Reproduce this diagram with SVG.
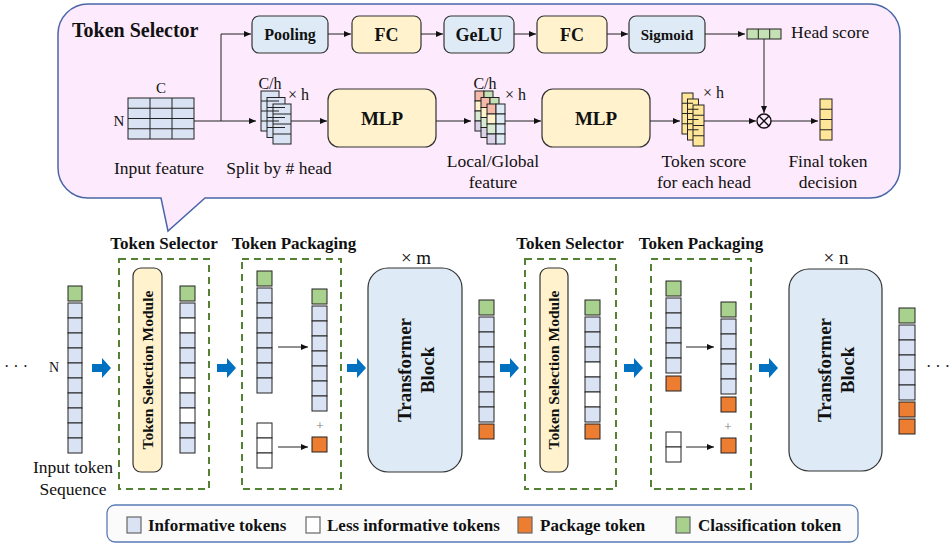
<svg xmlns="http://www.w3.org/2000/svg" width="951" height="544" viewBox="0 0 951 544">
<style>
text{font-family:"Liberation Serif","Times New Roman",serif;fill:#111}
.t{font-size:17.5px}
.bl{font-weight:bold}
.c{text-anchor:middle}
.box{stroke:#333;stroke-width:1.2}
.fb{fill:#deebf7}
.fy{fill:#fff2cc}
.leg{stroke:#666;stroke-width:1.2}
.cell{stroke:#222;stroke-width:1}
.b{fill:#dae3f3}
.w{fill:#fff}
.g{fill:#a9d18e}
.o{fill:#ed7d31}
.s{fill:#ffe699}
.hs{fill:#c5e0b4}
.ln{stroke:#222;stroke-width:1;fill:none}
.dash{fill:none;stroke:#548235;stroke-width:2;stroke-dasharray:7 5}
</style>
<defs>
<marker id="ah" markerWidth="8" markerHeight="8" refX="7" refY="4" orient="auto" markerUnits="userSpaceOnUse"><path d="M0,1 L7,4 L0,7 z" fill="#111"/></marker>
<polygon id="barrow" points="0,-4 10,-4 10,-10 19,0 10,10 10,4 0,4" fill="#0070c0"/>
</defs>

<!-- Token Selector bubble -->
<g id="bubble">
<path d="M88,4 H870 A30,30 0 0 1 900,34 V168 A30,30 0 0 1 870,198 H205 L168,231 L161,198 H88 A30,30 0 0 1 58,168 V34 A30,30 0 0 1 88,4 Z" fill="#fdebfd" stroke="#4a66a8" stroke-width="1.5"/>
<text x="72" y="37" class="bl" font-size="20">Token Selector</text>
</g>

<g id="input-feature">
<rect x="128" y="98" width="66" height="41" class="cell b"/>
<path d="M150,98V139M172,98V139M128,108.25H194M128,118.5H194M128,128.75H194" class="ln"/>
<text x="161" y="93" font-size="15" class="c">C</text>
<text x="119" y="126" font-size="15" class="c">N</text>
<text x="159" y="174" class="t c">Input feature</text>
</g>

<g id="split-head">
<g class="cell b">
<rect x="261" y="91" width="18" height="40"/><rect x="267" y="97.5" width="18" height="40"/><rect x="273" y="104" width="18" height="40"/>
</g>
<path d="M261,101H279M261,111H279M261,121H279M267,107.5H285M267,117.5H285M267,127.5H285M273,114H291M273,124H291M273,134H291" class="ln"/>
<text x="270" y="89" font-size="16" class="c">C/h</text>
<text x="288" y="100" font-size="16">× h</text>
<text x="279" y="174" class="t c">Split by # head</text>
</g>

<g id="pooling"><rect x="252" y="16" width="76" height="37" rx="7" class="box fb"/><text x="290" y="40" font-size="16" class="bl c">Pooling</text></g>
<g id="fc1"><rect x="352" y="16" width="69" height="37" rx="7" class="box fy"/><text x="386.5" y="41" font-size="18" class="bl c">FC</text></g>
<g id="gelu"><rect x="444" y="16" width="70" height="37" rx="7" class="box fb"/><text x="479" y="41" font-size="18" class="bl c">GeLU</text></g>
<g id="fc2"><rect x="537" y="16" width="70" height="37" rx="7" class="box fy"/><text x="572" y="41" font-size="18" class="bl c">FC</text></g>
<g id="sigmoid"><rect x="629" y="16" width="76" height="37" rx="7" class="box fb"/><text x="667" y="40" font-size="15" class="bl c">Sigmoid</text></g>

<g id="head-score">
<rect x="747" y="29" width="34" height="10" class="cell hs"/>
<path d="M758.3,29V39M769.7,29V39" class="ln"/>
<text x="791" y="38" class="t">Head score</text>
</g>

<g id="mlp1"><rect x="328" y="89" width="108" height="58" rx="11" class="box fy"/><text x="382" y="125" font-size="19" class="bl c">MLP</text></g>
<g id="mlp2"><rect x="542" y="89" width="108" height="58" rx="11" class="box fy"/><text x="596" y="125" font-size="19" class="bl c">MLP</text></g>

<g id="local-global">
<g class="cell">
<rect x="475" y="91" width="9" height="10" fill="#f4b9a8"/><rect x="484" y="91" width="9" height="10" fill="#c5e0b4"/>
<rect x="475" y="101" width="9" height="10" fill="#fff2cc"/><rect x="484" y="101" width="9" height="10" fill="#deebf7"/>
<rect x="475" y="111" width="9" height="10" fill="#d9ead3"/><rect x="484" y="111" width="9" height="10" fill="#deebf7"/>
<rect x="475" y="121" width="9" height="10" fill="#d9d2e9"/><rect x="484" y="121" width="9" height="10" fill="#deebf7"/>
<rect x="481" y="97.5" width="9" height="10" fill="#f4b9a8"/><rect x="490" y="97.5" width="9" height="10" fill="#c5e0b4"/>
<rect x="481" y="107.5" width="9" height="10" fill="#fff2cc"/><rect x="490" y="107.5" width="9" height="10" fill="#deebf7"/>
<rect x="481" y="117.5" width="9" height="10" fill="#d9ead3"/><rect x="490" y="117.5" width="9" height="10" fill="#deebf7"/>
<rect x="481" y="127.5" width="9" height="10" fill="#d9d2e9"/><rect x="490" y="127.5" width="9" height="10" fill="#deebf7"/>
<rect x="487" y="104" width="9" height="10" fill="#f4b9a8"/><rect x="496" y="104" width="9" height="10" fill="#deebf7"/>
<rect x="487" y="114" width="9" height="10" fill="#fff2cc"/><rect x="496" y="114" width="9" height="10" fill="#deebf7"/>
<rect x="487" y="124" width="9" height="10" fill="#d9ead3"/><rect x="496" y="124" width="9" height="10" fill="#deebf7"/>
<rect x="487" y="134" width="9" height="10" fill="#d9d2e9"/><rect x="496" y="134" width="9" height="10" fill="#deebf7"/>
</g>
<text x="485" y="89" font-size="16" class="c">C/h</text>
<text x="505" y="100" font-size="16">× h</text>
<text x="493" y="167" class="t c">Local/Global</text>
<text x="493" y="188" class="t c">feature</text>
</g>

<g id="token-score">
<g class="cell s">
<rect x="682" y="93" width="11" height="41"/><rect x="687.5" y="99" width="11" height="41"/><rect x="693" y="105" width="11" height="41"/>
</g>
<path d="M682,103.25H693M682,113.5H693M682,123.75H693M687.5,109.25H698.5M687.5,119.5H698.5M687.5,129.75H698.5M693,115.25H704M693,125.5H704M693,135.75H704" class="ln"/>
<text x="703" y="98" font-size="16">× h</text>
<text x="704" y="167" class="t c">Token score</text>
<text x="704" y="188" class="t c">for each head</text>
</g>

<g id="multiply">
<circle cx="764" cy="121" r="7" fill="none" stroke="#111" stroke-width="1.4"/>
<path d="M759,116L769,126M769,116L759,126" stroke="#111" stroke-width="1.4"/>
</g>

<g id="final-decision">
<rect x="820" y="99" width="12" height="41" class="cell s"/>
<path d="M820,109.25H832M820,119.5H832M820,129.75H832" class="ln"/>
<text x="828" y="167" class="t c">Final token</text>
<text x="828" y="188" class="t c">decision</text>
</g>

<g id="connectors">
<path d="M194,121H256" class="ln" marker-end="url(#ah)"/>
<path d="M221,121V34H251" class="ln" marker-end="url(#ah)"/>
<path d="M328,34H351" class="ln" marker-end="url(#ah)"/>
<path d="M421,34H443" class="ln" marker-end="url(#ah)"/>
<path d="M514,34H536" class="ln" marker-end="url(#ah)"/>
<path d="M607,34H628" class="ln" marker-end="url(#ah)"/>
<path d="M705,34H745" class="ln" marker-end="url(#ah)"/>
<path d="M291,121H327" class="ln" marker-end="url(#ah)"/>
<path d="M436,121H471" class="ln" marker-end="url(#ah)"/>
<path d="M505,121H541" class="ln" marker-end="url(#ah)"/>
<path d="M650,121H680" class="ln" marker-end="url(#ah)"/>
<path d="M704,121H756" class="ln" marker-end="url(#ah)"/>
<path d="M764,39V113" class="ln" marker-end="url(#ah)"/>
<path d="M771,121H818" class="ln" marker-end="url(#ah)"/>
<path d="M278,347H308" class="ln" marker-end="url(#ah)"/>
<path d="M278,447H308" class="ln" marker-end="url(#ah)"/>
<path d="M686,347H714" class="ln" marker-end="url(#ah)"/>
<path d="M686,447H714" class="ln" marker-end="url(#ah)"/>
<use href="#barrow" x="92" y="368"/>
<use href="#barrow" x="217" y="368"/>
<use href="#barrow" x="347" y="368"/>
<use href="#barrow" x="500" y="368"/>
<use href="#barrow" x="624" y="368"/>
<use href="#barrow" x="759" y="368"/>
</g>

<!-- bottom pipeline -->
<g id="input-tokens">
<text x="16" y="372" font-size="16" class="c">· · ·</text>
<text x="54" y="372" font-size="14" class="c">N</text>
<g class="cell">
<rect x="68" y="286" width="14" height="15" class="g"/>
<rect x="68" y="303" width="14" height="15" class="b"/><rect x="68" y="318" width="14" height="15" class="b"/><rect x="68" y="333" width="14" height="15" class="b"/><rect x="68" y="348" width="14" height="15" class="b"/><rect x="68" y="363" width="14" height="15" class="b"/><rect x="68" y="378" width="14" height="15" class="b"/><rect x="68" y="393" width="14" height="15" class="b"/><rect x="68" y="408" width="14" height="15" class="b"/><rect x="68" y="423" width="14" height="15" class="b"/><rect x="68" y="438" width="14" height="15" class="b"/>
</g>
<text x="73" y="473" class="t c">Input token</text>
<text x="73" y="495" class="t c">Sequence</text>
</g>

<g id="selector1">
<text x="164" y="249" font-size="17" class="bl c">Token Selector</text>
<rect x="119" y="259" width="90" height="230" class="dash"/>
<rect x="133" y="268" width="29" height="204" rx="8" class="box fy"/>
<text transform="translate(153,370) rotate(-90)" font-size="15.5" class="bl c">Token Selection Module</text>
<g class="cell">
<rect x="180" y="286" width="15" height="15" class="g"/>
<rect x="180" y="303" width="15" height="15" class="b"/><rect x="180" y="318" width="15" height="15" class="w"/><rect x="180" y="333" width="15" height="15" class="b"/><rect x="180" y="348" width="15" height="15" class="b"/><rect x="180" y="363" width="15" height="15" class="b"/><rect x="180" y="378" width="15" height="15" class="w"/><rect x="180" y="393" width="15" height="15" class="b"/><rect x="180" y="408" width="15" height="15" class="w"/><rect x="180" y="423" width="15" height="15" class="b"/><rect x="180" y="438" width="15" height="15" class="b"/>
</g>
</g>

<g id="packaging1">
<text x="294" y="249" font-size="17" class="bl c">Token Packaging</text>
<rect x="242" y="259" width="99" height="230" class="dash"/>
<g class="cell">
<rect x="257" y="271" width="15" height="15" class="g"/>
<rect x="257" y="288" width="15" height="15" class="b"/><rect x="257" y="303" width="15" height="15" class="b"/><rect x="257" y="318" width="15" height="15" class="b"/><rect x="257" y="333" width="15" height="15" class="b"/><rect x="257" y="348" width="15" height="15" class="b"/><rect x="257" y="363" width="15" height="15" class="b"/><rect x="257" y="378" width="15" height="15" class="b"/>
<rect x="257" y="423" width="15" height="15" class="w"/><rect x="257" y="438" width="15" height="15" class="w"/><rect x="257" y="453" width="15" height="15" class="w"/>
<rect x="312" y="289" width="15" height="15" class="g"/>
<rect x="312" y="306" width="15" height="15" class="b"/><rect x="312" y="321" width="15" height="15" class="b"/><rect x="312" y="336" width="15" height="15" class="b"/><rect x="312" y="351" width="15" height="15" class="b"/><rect x="312" y="366" width="15" height="15" class="b"/><rect x="312" y="381" width="15" height="15" class="b"/><rect x="312" y="396" width="15" height="15" class="b"/>
<rect x="312" y="437" width="15" height="15" class="o"/>
</g>
<text x="320" y="430" font-size="13" class="c" style="fill:#777">+</text>
</g>

<g id="transformer1">
<text x="416" y="264" font-size="19" class="c">× m</text>
<rect x="368" y="268" width="94" height="204" rx="20" class="box fb"/>
<text transform="translate(411,370) rotate(-90)" font-size="19" class="bl c">Transformer</text>
<text transform="translate(434,370) rotate(-90)" font-size="19" class="bl c">Block</text>
<g class="cell">
<rect x="479" y="300" width="15" height="15" class="g"/>
<rect x="479" y="317" width="15" height="15" class="b"/><rect x="479" y="332" width="15" height="15" class="b"/><rect x="479" y="347" width="15" height="15" class="b"/><rect x="479" y="362" width="15" height="15" class="b"/><rect x="479" y="377" width="15" height="15" class="b"/><rect x="479" y="392" width="15" height="15" class="b"/><rect x="479" y="407" width="15" height="15" class="b"/>
<rect x="479" y="424" width="15" height="15" class="o"/>
</g>
</g>

<g id="selector2">
<text x="570" y="249" font-size="17" class="bl c">Token Selector</text>
<rect x="525" y="259" width="91" height="230" class="dash"/>
<rect x="540" y="268" width="28" height="204" rx="8" class="box fy"/>
<text transform="translate(559,370) rotate(-90)" font-size="15.5" class="bl c">Token Selection Module</text>
<g class="cell">
<rect x="585" y="300" width="15" height="15" class="g"/>
<rect x="585" y="317" width="15" height="15" class="b"/><rect x="585" y="332" width="15" height="15" class="b"/><rect x="585" y="347" width="15" height="15" class="b"/><rect x="585" y="362" width="15" height="15" class="w"/><rect x="585" y="377" width="15" height="15" class="b"/><rect x="585" y="392" width="15" height="15" class="w"/><rect x="585" y="407" width="15" height="15" class="b"/>
<rect x="585" y="424" width="15" height="15" class="o"/>
</g>
</g>

<g id="packaging2">
<text x="701" y="249" font-size="17" class="bl c">Token Packaging</text>
<rect x="651" y="259" width="100" height="230" class="dash"/>
<g class="cell">
<rect x="666" y="281" width="15" height="15" class="g"/>
<rect x="666" y="298" width="15" height="15" class="b"/><rect x="666" y="313" width="15" height="15" class="b"/><rect x="666" y="328" width="15" height="15" class="b"/><rect x="666" y="343" width="15" height="15" class="b"/><rect x="666" y="358" width="15" height="15" class="b"/>
<rect x="666" y="376" width="15" height="15" class="o"/>
<rect x="666" y="432" width="15" height="15" class="w"/><rect x="666" y="447" width="15" height="15" class="w"/>
<rect x="721" y="302" width="15" height="15" class="g"/>
<rect x="721" y="319" width="15" height="15" class="b"/><rect x="721" y="334" width="15" height="15" class="b"/><rect x="721" y="349" width="15" height="15" class="b"/><rect x="721" y="364" width="15" height="15" class="b"/><rect x="721" y="379" width="15" height="15" class="b"/>
<rect x="721" y="397" width="15" height="15" class="o"/>
<rect x="721" y="438" width="15" height="15" class="o"/>
</g>
<text x="728" y="431" font-size="13" class="c" style="fill:#777">+</text>
</g>

<g id="transformer2">
<text x="836" y="264" font-size="19" class="c">× n</text>
<rect x="789" y="269" width="93" height="202" rx="20" class="box fb"/>
<text transform="translate(831,370) rotate(-90)" font-size="19" class="bl c">Transformer</text>
<text transform="translate(854,370) rotate(-90)" font-size="19" class="bl c">Block</text>
<g class="cell">
<rect x="899" y="308" width="16" height="15" class="g"/>
<rect x="899" y="325" width="16" height="15" class="b"/><rect x="899" y="340" width="16" height="15" class="b"/><rect x="899" y="355" width="16" height="15" class="b"/><rect x="899" y="370" width="16" height="15" class="b"/><rect x="899" y="385" width="16" height="15" class="b"/>
<rect x="899" y="402" width="16" height="15" class="o"/>
<rect x="899" y="419" width="16" height="15" class="o"/>
</g>
<text x="938" y="372" font-size="16" class="c">· · ·</text>
</g>

<g id="legend">
<rect x="107" y="505" width="751" height="37" rx="8" fill="#fbfbfb" stroke="#5b7bb5" stroke-width="1.3"/>
<rect x="127" y="517" width="14" height="16" class="leg b"/>
<text x="148" y="531" font-size="17" class="bl">Informative tokens</text>
<rect x="306" y="517" width="14" height="16" class="leg w"/>
<text x="327" y="531" font-size="17" class="bl">Less informative tokens</text>
<rect x="518" y="517" width="14" height="16" class="leg o"/>
<text x="540" y="531" font-size="17" class="bl">Package token</text>
<rect x="676" y="517" width="14" height="16" class="leg g"/>
<text x="698" y="531" font-size="17" class="bl">Classification token</text>
</g>
</svg>
